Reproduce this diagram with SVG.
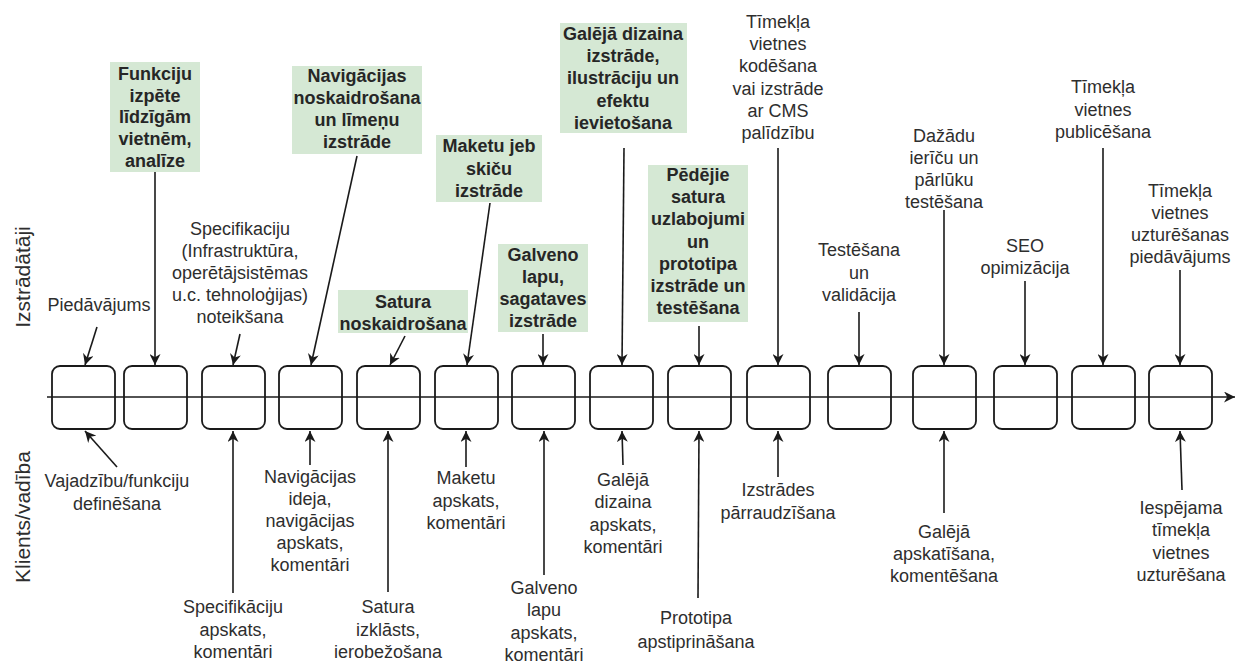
<svg xmlns="http://www.w3.org/2000/svg" width="1236" height="663" viewBox="0 0 1236 663">
<style>
.t{font-family:"Liberation Sans",Arial,sans-serif;font-size:18px;fill:#2e2e2e;text-anchor:middle}
.b{font-family:"Liberation Sans",Arial,sans-serif;font-size:18px;font-weight:bold;fill:#262626;text-anchor:middle}
.v{font-family:"Liberation Sans",Arial,sans-serif;font-size:21px;fill:#2e2e2e;text-anchor:middle}
.g{fill:#d5e8d4;stroke:none}
.box{fill:none;stroke:#1a1a1a;stroke-width:1.8}
.c{fill:none;stroke:#1a1a1a;stroke-width:1.6;marker-end:url(#ah)}
</style>
<defs>
<marker id="ah" viewBox="0 0 10 10" refX="10" refY="5" markerWidth="11" markerHeight="11" markerUnits="userSpaceOnUse" orient="auto">
<path d="M0,0 L10,5 L0,10 L3,5 z" fill="#1a1a1a"/>
</marker>
</defs>
<rect width="1236" height="663" fill="#ffffff"/>

<g id="lanes">
<text class="v" transform="translate(30,277) rotate(-90)">Izstrādātāji</text>
<text class="v" transform="translate(30,517) rotate(-90)">Klients/vadība</text>
</g>

<g id="connectors">
<line class="c" x1="47" y1="397" x2="1235" y2="397"/>
<line class="c" x1="97" y1="327" x2="85" y2="365"/>
<line class="c" x1="155" y1="172" x2="155" y2="365"/>
<line class="c" x1="240" y1="334" x2="233" y2="365"/>
<line class="c" x1="357" y1="156" x2="311" y2="365"/>
<line class="c" x1="405" y1="336" x2="390" y2="365"/>
<line class="c" x1="490" y1="203" x2="467" y2="365"/>
<line class="c" x1="543" y1="334" x2="543" y2="365"/>
<line class="c" x1="624" y1="148" x2="622" y2="365"/>
<line class="c" x1="699" y1="326" x2="699" y2="365"/>
<line class="c" x1="778" y1="148" x2="778" y2="365"/>
<line class="c" x1="859" y1="312" x2="859" y2="365"/>
<line class="c" x1="944" y1="210" x2="944" y2="365"/>
<line class="c" x1="1025" y1="281" x2="1025" y2="365"/>
<line class="c" x1="1103" y1="148" x2="1103" y2="365"/>
<line class="c" x1="1180" y1="270" x2="1180" y2="365"/>
<line class="c" x1="117" y1="467" x2="85" y2="431"/>
<line class="c" x1="233" y1="593" x2="233" y2="431"/>
<line class="c" x1="310" y1="465" x2="310" y2="431"/>
<line class="c" x1="388" y1="592" x2="388" y2="431"/>
<line class="c" x1="466" y1="467" x2="466" y2="431"/>
<line class="c" x1="544" y1="575" x2="544" y2="431"/>
<line class="c" x1="623" y1="465" x2="622" y2="431"/>
<line class="c" x1="698" y1="598" x2="699" y2="431"/>
<line class="c" x1="778" y1="477" x2="778" y2="431"/>
<line class="c" x1="944" y1="513" x2="944" y2="431"/>
<line class="c" x1="1182" y1="490" x2="1180" y2="431"/>
</g>

<g id="timeline-boxes">
<rect id="s1" class="box" x="52" y="366" width="63" height="63" rx="8"/>
<rect id="s2" class="box" x="124" y="366" width="63" height="63" rx="8"/>
<rect id="s3" class="box" x="202" y="366" width="63" height="63" rx="8"/>
<rect id="s4" class="box" x="279" y="366" width="63" height="63" rx="8"/>
<rect id="s5" class="box" x="357" y="366" width="63" height="63" rx="8"/>
<rect id="s6" class="box" x="435" y="366" width="63" height="63" rx="8"/>
<rect id="s7" class="box" x="512" y="366" width="63" height="63" rx="8"/>
<rect id="s8" class="box" x="590" y="366" width="63" height="63" rx="8"/>
<rect id="s9" class="box" x="668" y="366" width="63" height="63" rx="8"/>
<rect id="s10" class="box" x="747" y="366" width="63" height="63" rx="8"/>
<rect id="s11" class="box" x="828" y="366" width="63" height="63" rx="8"/>
<rect id="s12" class="box" x="913" y="366" width="63" height="63" rx="8"/>
<rect id="s13" class="box" x="994" y="366" width="63" height="63" rx="8"/>
<rect id="s14" class="box" x="1072" y="366" width="63" height="63" rx="8"/>
<rect id="s15" class="box" x="1149" y="366" width="63" height="63" rx="8"/>
</g>

<g id="dev1"><text class="t" x="99" y="311">Piedāvājums</text></g>
<g id="dev2"><rect class="g" x="110" y="62" width="90" height="110"/>
<text class="b" y="80"><tspan x="155">Funkciju</tspan><tspan x="155" dy="21.7">izpēte</tspan><tspan x="155" dy="21.7">līdzīgām</tspan><tspan x="155" dy="21.7">vietnēm,</tspan><tspan x="155" dy="21.7">analīze</tspan></text></g>
<g id="dev3"><text class="t" y="235"><tspan x="240">Specifikaciju</tspan><tspan x="240" dy="22">(Infrastruktūra,</tspan><tspan x="240" dy="22">operētājsistēmas</tspan><tspan x="240" dy="22">u.c. tehnoloģijas)</tspan><tspan x="240" dy="22">noteikšana</tspan></text></g>
<g id="dev4"><rect class="g" x="292" y="66" width="130" height="88"/>
<text class="b" y="82"><tspan x="357">Navigācijas</tspan><tspan x="357" dy="22">noskaidrošana</tspan><tspan x="357" dy="22">un līmeņu</tspan><tspan x="357" dy="22">izstrāde</tspan></text></g>
<g id="dev5"><rect class="g" x="338" y="290" width="130" height="43"/>
<text class="b" y="308"><tspan x="403">Satura</tspan><tspan x="403" dy="22">noskaidrošana</tspan></text></g>
<g id="dev6"><rect class="g" x="436" y="135" width="106" height="67"/>
<text class="b" y="152"><tspan x="489">Maketu jeb</tspan><tspan x="489" dy="22.5">skiču</tspan><tspan x="489" dy="22.5">izstrāde</tspan></text></g>
<g id="dev7"><rect class="g" x="498" y="244" width="90" height="88"/>
<text class="b" y="261"><tspan x="543">Galveno</tspan><tspan x="543" dy="22">lapu,</tspan><tspan x="543" dy="22">sagataves</tspan><tspan x="543" dy="22">izstrāde</tspan></text></g>
<g id="dev8"><rect class="g" x="560" y="23" width="127" height="110"/>
<text class="b" y="40"><tspan x="623">Galējā dizaina</tspan><tspan x="623" dy="22.2">izstrāde,</tspan><tspan x="623" dy="22.2">ilustrāciju un</tspan><tspan x="623" dy="22.2">efektu</tspan><tspan x="623" dy="22.2">ievietošana</tspan></text></g>
<g id="dev9"><rect class="g" x="648" y="165" width="100" height="157"/>
<text class="b" y="181"><tspan x="698">Pēdējie</tspan><tspan x="698" dy="22.2">satura</tspan><tspan x="698" dy="22.2">uzlabojumi</tspan><tspan x="698" dy="22.2">un</tspan><tspan x="698" dy="22.2">prototipa</tspan><tspan x="698" dy="22.2">izstrāde un</tspan><tspan x="698" dy="22.2">testēšana</tspan></text></g>
<g id="dev10"><text class="t" y="28"><tspan x="778">Tīmekļa</tspan><tspan x="778" dy="22.2">vietnes</tspan><tspan x="778" dy="22.2">kodēšana</tspan><tspan x="778" dy="22.2">vai izstrāde</tspan><tspan x="778" dy="22.2">ar CMS</tspan><tspan x="778" dy="22.2">palīdzību</tspan></text></g>
<g id="dev11"><text class="t" y="256"><tspan x="859">Testēšana</tspan><tspan x="859" dy="22.5">un</tspan><tspan x="859" dy="22.5">validācija</tspan></text></g>
<g id="dev12"><text class="t" y="142"><tspan x="944">Dažādu</tspan><tspan x="944" dy="22">ierīču un</tspan><tspan x="944" dy="22">pārlūku</tspan><tspan x="944" dy="22">testēšana</tspan></text></g>
<g id="dev13"><text class="t" y="252"><tspan x="1025">SEO</tspan><tspan x="1025" dy="22">opimizācija</tspan></text></g>
<g id="dev14"><text class="t" y="93"><tspan x="1103">Tīmekļa</tspan><tspan x="1103" dy="22.5">vietnes</tspan><tspan x="1103" dy="22.5">publicēšana</tspan></text></g>
<g id="dev15"><text class="t" y="197"><tspan x="1180">Tīmekļa</tspan><tspan x="1180" dy="22">vietnes</tspan><tspan x="1180" dy="22">uzturēšanas</tspan><tspan x="1180" dy="22">piedāvājums</tspan></text></g>

<g id="cl1"><text class="t" y="487"><tspan x="117">Vajadzību/funkciju</tspan><tspan x="117" dy="23">definēšana</tspan></text></g>
<g id="cl3"><text class="t" y="613"><tspan x="233">Specifikāciju</tspan><tspan x="233" dy="22.5">apskats,</tspan><tspan x="233" dy="22.5">komentāri</tspan></text></g>
<g id="cl4"><text class="t" y="483"><tspan x="310">Navigācijas</tspan><tspan x="310" dy="22">ideja,</tspan><tspan x="310" dy="22">navigācijas</tspan><tspan x="310" dy="22">apskats,</tspan><tspan x="310" dy="22">komentāri</tspan></text></g>
<g id="cl5"><text class="t" y="613"><tspan x="388">Satura</tspan><tspan x="388" dy="22.5">izklāsts,</tspan><tspan x="388" dy="22.5">ierobežošana</tspan></text></g>
<g id="cl6"><text class="t" y="484"><tspan x="466">Maketu</tspan><tspan x="466" dy="22.5">apskats,</tspan><tspan x="466" dy="22.5">komentāri</tspan></text></g>
<g id="cl7"><text class="t" y="594"><tspan x="544">Galveno</tspan><tspan x="544" dy="22.3">lapu</tspan><tspan x="544" dy="22.3">apskats,</tspan><tspan x="544" dy="22.3">komentāri</tspan></text></g>
<g id="cl8"><text class="t" y="486"><tspan x="623">Galējā</tspan><tspan x="623" dy="22.3">dizaina</tspan><tspan x="623" dy="22.3">apskats,</tspan><tspan x="623" dy="22.3">komentāri</tspan></text></g>
<g id="cl9"><text class="t" y="624"><tspan x="696">Prototipa</tspan><tspan x="696" dy="24">apstiprināšana</tspan></text></g>
<g id="cl10"><text class="t" y="496"><tspan x="778">Izstrādes</tspan><tspan x="778" dy="23">pārraudzīšana</tspan></text></g>
<g id="cl12"><text class="t" y="538"><tspan x="944">Galējā</tspan><tspan x="944" dy="22">apskatīšana,</tspan><tspan x="944" dy="22">komentēšana</tspan></text></g>
<g id="cl15"><text class="t" y="514"><tspan x="1181">Iespējama</tspan><tspan x="1181" dy="22.3">tīmekļa</tspan><tspan x="1181" dy="22.3">vietnes</tspan><tspan x="1181" dy="22.3">uzturēšana</tspan></text></g>
</svg>
